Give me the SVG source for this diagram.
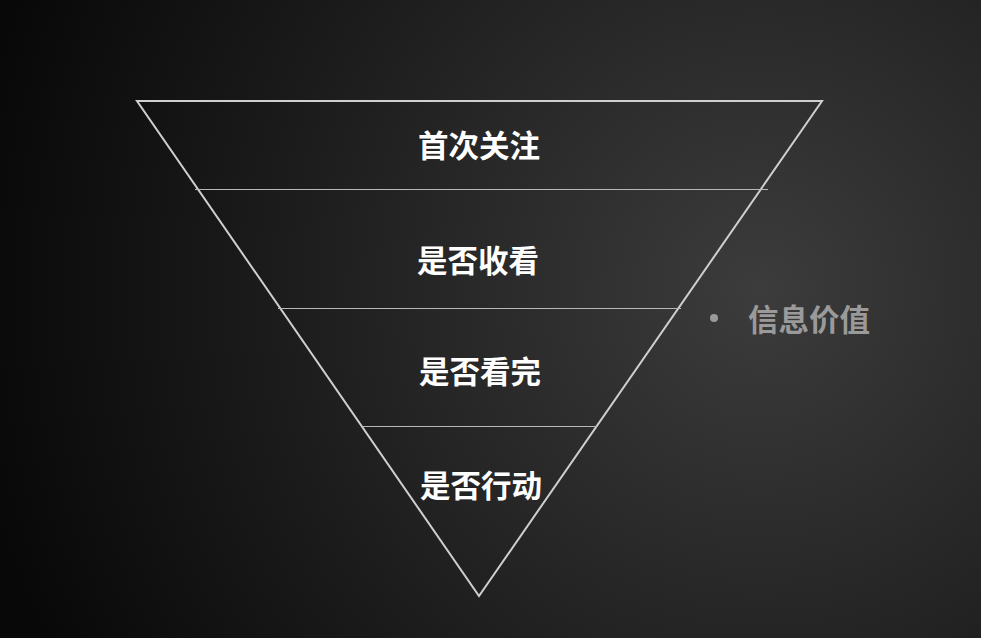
<svg xmlns="http://www.w3.org/2000/svg" width="981" height="638" viewBox="0 0 981 638">
<defs>
<radialGradient id="bg" cx="760" cy="290" r="800" gradientUnits="userSpaceOnUse">
<stop offset="0" stop-color="#3c3c3c"/><stop offset="0.6" stop-color="#1c1c1c"/><stop offset="1" stop-color="#080808"/>
</radialGradient>
<style>
.t{font-family:"Noto Sans CJK SC",sans-serif;font-weight:bold;font-size:30.5px;fill:#fff;text-anchor:middle;dominant-baseline:central}
.l{stroke:#b8b8b8;stroke-width:1;fill:none}
</style>
</defs>
<rect width="981" height="638" fill="url(#bg)"/>
<g id="connectors">
<polygon class="l" style="stroke:#cfcfcf;stroke-width:2" points="137,101 822,101 479,596"/>
<line class="l" x1="195" y1="189.5" x2="768" y2="189.5"/>
<line class="l" x1="278" y1="308.5" x2="681" y2="308.5"/>
<line class="l" x1="362" y1="426.5" x2="597" y2="426.5"/>
</g>
<g id="n1"><text class="t" x="479" y="144">首次关注</text></g>
<g id="n2"><text class="t" x="478" y="259">是否收看</text></g>
<g id="n3"><text class="t" x="480" y="370">是否看完</text></g>
<g id="n4"><text class="t" x="481" y="484">是否行动</text></g>
<g id="side"><circle cx="714" cy="318" r="4" fill="#9a9a9a"/><text class="t" x="809" y="318" style="fill:#9a9a9a">信息价值</text></g>
</svg>
